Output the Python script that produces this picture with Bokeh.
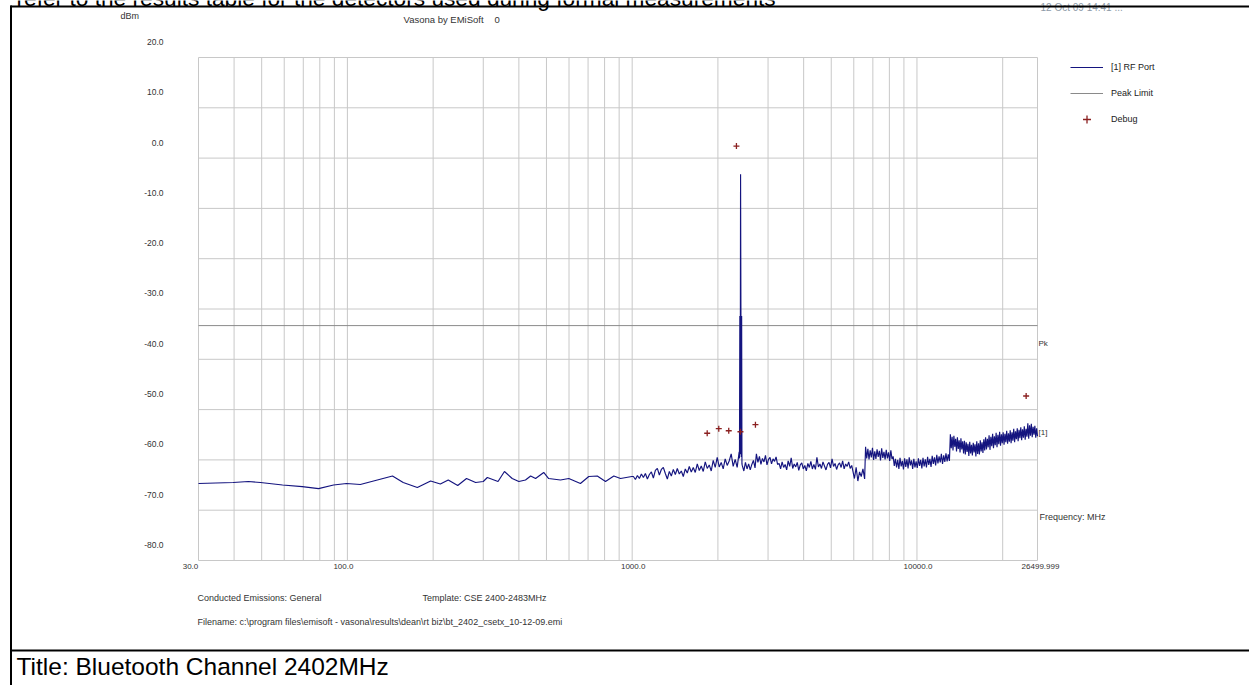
import numpy as np
from bokeh.plotting import figure
from bokeh.models import Range1d, Label, Legend, LegendItem, Arrow
from bokeh.core.properties import value
from bokeh.embed import file_html
from bokeh.resources import INLINE

# ---------------- data ----------------
# smooth part of the sweep, 30 MHz .. 1 GHz
low_freq_mhz = [30, 39.7, 44.9, 49.5, 59.2, 69.4, 79.2, 89.4, 99.3, 111, 144, 157, 176, 196,
                212, 226, 244, 262, 282, 300, 310, 338, 356, 379, 400, 422, 440, 458, 489,
                509, 560, 599, 658, 704, 754, 806, 862, 910, 997]
low_level_dbm = [-67.8, -67.6, -67.4, -67.6, -68.1, -68.4, -68.8, -68.1, -67.8, -68.0, -66.3,
                 -67.6, -68.6, -67.3, -67.9, -67.1, -68.2, -66.8, -67.6, -67.4, -66.6, -67.4,
                 -65.4, -66.8, -67.4, -67.1, -66.3, -66.8, -65.6, -66.8, -67.1, -66.8, -67.8,
                 -66.4, -66.3, -67.4, -66.3, -66.8, -66.4]

# sweep bands above 1 GHz: (start MHz, stop MHz) and the levels read in order
band_a_mhz = (1010, 2375)
band_a_dbm = [-66.4, -67.0, -66.2, -66.8, -65.9, -66.6, -65.8, -66.9, -66.0, -65.5, -66.7, -65.2,
              -64.8, -66.1, -65.0, -64.6, -65.8, -66.9, -65.4, -66.3, -65.0, -66.0, -64.8, -65.9,
              -65.3, -66.4, -64.9, -65.7, -64.4, -65.5, -64.6, -65.6, -63.9, -65.2, -64.3, -65.4,
              -63.5, -64.8, -64.1, -65.3, -63.2, -64.6, -62.6, -64.5, -63.6, -64.9, -62.9, -64.2,
              -63.3, -61.9, -64.4, -63.0, -64.6, -61.5]

carrier_freq_mhz = [2381, 2388, 2395, 2402, 2409, 2416, 2423, 2429]
carrier_dbm = [-62.8, -34.5, -62.0, -6.3, -34.6, -62.5, -34.5, -63.9]

band_c_mhz = (2435, 2700)
band_c_dbm = [-64.2, -65.3, -63.6, -64.9, -63.9, -65.1, -64.0, -63.2, -64.7]

band_d_mhz = (2730, 5900)
band_d_dbm = [-61.9, -63.6, -62.4, -64.0, -62.8, -63.5, -62.2, -64.1, -63.0, -62.6, -63.9, -62.9,
              -63.4, -62.5, -64.0,
              -63.8, -64.9, -63.5, -64.6, -64.0, -65.1, -63.3, -64.4, -62.7, -64.8,
              -63.9, -64.5, -63.6, -65.2, -64.1, -63.7, -64.9, -64.2, -65.3, -63.8,
              -64.6, -63.4, -64.9, -64.0, -65.0, -62.6, -64.5, -63.9, -64.8, -63.5,
              -64.3, -65.1, -64.0, -63.6, -64.7, -62.9, -64.4, -63.8, -65.0, -64.1,
              -63.7, -64.6, -63.3, -64.9, -63.9, -64.4, -63.5, -64.8, -64.2]

band_e_mhz = (5950, 6550)
band_e_dbm = [-65.2, -66.8, -64.6, -67.3, -65.5, -66.4, -64.9, -66.9]

band_f_mhz = (6600, 13000)
band_f_dbm = [-60.5, -62.8, -60.9, -63.0, -61.2, -62.6, -60.7, -63.1, -61.4, -62.9, -61.0, -62.5,
              -61.3, -63.2, -60.8, -62.7, -61.5, -63.0, -61.1, -62.8, -61.6, -63.3, -61.2, -62.9,
              -62.4, -64.3, -62.9, -64.6, -63.1, -64.9, -62.7, -64.4, -63.3, -65.0,
              -62.8, -64.5, -63.0, -64.8, -62.6, -64.2, -63.2, -64.9, -62.9, -64.6,
              -63.4, -64.7, -62.8, -64.3, -63.1, -64.8, -62.7, -64.4, -63.0, -64.6,
              -62.5, -64.1, -62.9, -64.5, -62.3, -63.9, -62.6, -64.2, -62.1, -63.8,
              -62.4, -63.6, -61.9, -63.9, -62.2, -63.5, -61.8, -63.4, -62.0, -63.3]

band_g_mhz = (13100, 26499.999)
band_g_dbm = [-58.0, -60.8, -58.5, -61.2, -58.3, -60.5, -58.9, -61.4, -58.6, -60.9, -59.2, -61.6,
              -58.8, -61.0, -59.4, -61.8,
              -59.3, -62.0, -59.6, -61.5, -59.9, -62.3, -59.5, -61.8, -60.1, -62.2, -59.7, -61.6,
              -60.0, -62.4, -59.4, -61.9, -59.8, -62.0, -59.2, -61.4, -59.6, -61.7, -59.0, -61.2,
              -58.6, -61.0, -58.9, -60.6, -58.2, -61.1, -58.5, -60.4, -57.9, -60.8, -58.4, -60.2,
              -57.7, -60.6, -58.1, -60.0, -57.5, -60.3, -58.0, -59.8, -57.6, -60.1, -57.9, -59.6,
              -57.3, -59.9, -57.8, -59.5,
              -57.2, -59.8, -57.6, -59.3, -56.9, -59.6, -57.4, -59.0, -56.8, -59.4, -57.1, -58.8,
              -56.6, -59.2, -57.0, -58.7, -56.4, -59.1, -56.9, -58.5, -55.8, -58.9, -56.2, -58.3,
              -55.9, -58.6, -56.5, -58.1, -56.3, -58.7, -56.8, -58.4]

limit_freq_mhz = [30.0, 26499.999]
limit_dbm = [-36.4, -36.4]

debug_freq_mhz = [2323, 1834, 2014, 2183, 2400, 2709, 24175]
debug_dbm = [-0.7, -57.8, -56.9, -57.3, -57.5, -56.1, -50.4]

x_tick_values = [30.0, 100.0, 1000.0, 10000.0, 26499.999]
x_tick_labels = ["30.0", "100.0", "1000.0", "10000.0", "26499.999"]
x_minor_values = [40, 50, 60, 70, 80, 90, 200, 300, 400, 500, 600, 700, 800, 900,
                  2000, 3000, 4000, 5000, 6000, 7000, 8000, 9000, 20000]
y_tick_values = [-80, -70, -60, -50, -40, -30, -20, -10, 0, 10, 20]
y_tick_labels = ["-80.0", "-70.0", "-60.0", "-50.0", "-40.0", "-30.0", "-20.0", "-10.0",
                 "0.0", "10.0", "20.0"]

# ---------------- assemble the sweep ----------------
def band(rng, vals):
    return list(np.geomspace(rng[0], rng[1], len(vals))), list(vals)

freq = list(low_freq_mhz)
level = list(low_level_dbm)
f, v = band(band_a_mhz, band_a_dbm); freq += f; level += v
freq += carrier_freq_mhz; level += carrier_dbm
for rng, vals in [(band_c_mhz, band_c_dbm), (band_d_mhz, band_d_dbm), (band_e_mhz, band_e_dbm),
                  (band_f_mhz, band_f_dbm), (band_g_mhz, band_g_dbm)]:
    f, v = band(rng, vals); freq += f; level += v

# ---------------- page geometry ----------------
W, H = 1249, 685
BOX_L, BOX_R, BOX_T, BOX_B = 198, 1037, 57, 560      # plotted box, page pixels
X_LO, X_HI = 30.0, 26499.999
Y_LO, Y_HI = -83.1, 16.9
FONT = "Liberation Sans"
GRID = "#c8c8c8"
TXT = "#333333"
x_label_nudge_px = [-8, -4, 1, 1, 3]     # the source places its frequency labels slightly off-tick

# the whole page is the plotting frame; ranges are extended so the box lands in place
dec_per_px = np.log10(X_HI / X_LO) / (BOX_R - BOX_L)
db_per_px = (Y_HI - Y_LO) / (BOX_B - BOX_T)
x_range = Range1d(X_LO / 10 ** (BOX_L * dec_per_px), X_HI * 10 ** ((W - BOX_R) * dec_per_px))
y_range = Range1d(Y_LO - (H - BOX_B) * db_per_px, Y_HI + BOX_T * db_per_px)

p = figure(width=W, height=H, x_axis_type="log", x_range=x_range, y_range=y_range,
           output_backend="svg", toolbar_location=None, title=None,
           x_axis_location=None, y_axis_location=None, min_border=0)
p.background_fill_color = "white"
p.border_fill_color = "white"
p.outline_line_color = None
p.grid.visible = False

# grid and box
vx = [X_LO] + x_tick_values[1:-1] + x_minor_values + [X_HI]
p.segment(x0=vx, y0=[Y_LO] * len(vx), x1=vx, y1=[Y_HI] * len(vx),
          line_color=GRID, line_width=1)
hy = [Y_LO + 10 * k for k in range(11)]
p.segment(x0=[X_LO] * len(hy), y0=hy, x1=[X_HI] * len(hy), y1=hy,
          line_color=GRID, line_width=1)

# tick labels
p.text(x=x_tick_values, y=[Y_LO] * len(x_tick_values), text=x_tick_labels,
       x_offset=x_label_nudge_px, y_offset=6, text_align="center", text_baseline="middle",
       text_font=value(FONT), text_font_size="8px", text_color=TXT)
p.text(x=[X_LO] * len(y_tick_values), y=y_tick_values, text=y_tick_labels,
       x_offset=-35, text_align="right", text_baseline="middle",
       text_font=value(FONT), text_font_size="8.5px", text_color=TXT)

# series
limit_r = p.line(limit_freq_mhz, limit_dbm, line_color="#8a8a8a", line_width=1)
trace_r = p.line(freq, level, line_color="#14147f", line_width=1.15)
debug_r = p.scatter(debug_freq_mhz, debug_dbm, marker="cross", size=6,
                    line_color="#8b2020", line_width=1.3)

legend = Legend(items=[LegendItem(label="[1] RF Port", renderers=[trace_r]),
                       LegendItem(label="Peak Limit", renderers=[limit_r]),
                       LegendItem(label="Debug", renderers=[debug_r])],
                location=(1070, H - 129),
                glyph_width=33, glyph_height=20, label_height=20, spacing=6,
                padding=0, margin=0, label_standoff=8,
                label_text_font=FONT, label_text_font_size="9px", label_text_color="#222222",
                border_line_color=None, background_fill_alpha=0)
p.add_layout(legend)


def page_label(px, py, text, size, color=TXT, align="left"):
    # py is the vertical middle of the text box, in page pixels from the top
    p.add_layout(Label(x=px, y=H - py, x_units="screen", y_units="screen", text=text,
                       text_font=FONT, text_font_size=f"{size}px", text_color=color,
                       text_align=align, text_baseline="middle"))


def page_line(x0, y0, x1, y1, width=2):
    p.add_layout(Arrow(end=None, x_start=x0, y_start=H - y0, x_end=x1, y_end=H - y1,
                       start_units="screen", end_units="screen",
                       line_color="black", line_width=width))


page_label(120, 15, "dBm", 9)
page_label(403, 19, "Vasona by EMiSoft", 9.5)
page_label(494, 19, "0", 9.5)
page_label(1040, 7, "12 Oct 09 14:41 ...", 10, color="#8d9aa8")
page_label(1038, 343, "Pk", 8)
page_label(1038, 432, "[1]", 8)
page_label(1039, 516, "Frequency: MHz", 9)
page_label(197, 597, "Conducted Emissions: General", 9)
page_label(422, 597, "Template: CSE 2400-2483MHz", 9)
page_label(197, 621, "Filename: c:\\program files\\emisoft - vasona\\results\\dean\\rt biz\\bt_2402_csetx_10-12-09.emi", 9)

# surrounding document (the first line is cut by the top edge, as in the source)
page_label(16, -3, "refer to the results table for the detectors used during formal measurements",
           22.7, color="black")
page_label(16, 666, "Title: Bluetooth Channel 2402MHz", 24.5, color="black")
page_line(10, 6, 1249, 6)
page_line(10.5, 5, 10.5, 685)
page_line(10, 650, 1249, 650)

open("out.html", "w").write(file_html(p, INLINE))
